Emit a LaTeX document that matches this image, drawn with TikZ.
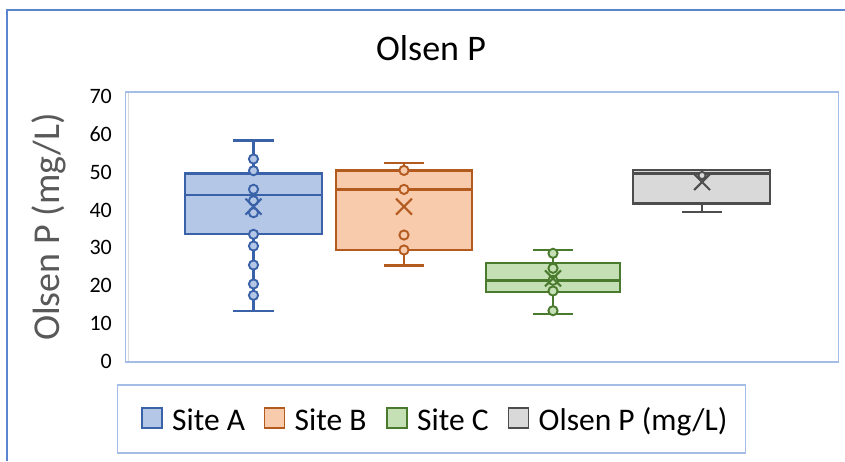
\documentclass[tikz,border=0pt]{standalone}
\usepackage{fontspec}
\setmainfont{Carlito}
\definecolor{lineA}{HTML}{3A62A8}
\definecolor{fillA}{HTML}{B4C7E7}
\definecolor{lineB}{HTML}{B35A1F}
\definecolor{fillB}{HTML}{F8CBAD}
\definecolor{lineC}{HTML}{4A7A2E}
\definecolor{fillC}{HTML}{C5E0B4}
\definecolor{lineD}{HTML}{4D4D4D}
\definecolor{fillD}{HTML}{D9D9D9}
\definecolor{plotborder}{HTML}{A4BDE6}
\definecolor{outerborder}{HTML}{5B86CF}
\definecolor{axisgrey}{HTML}{595959}
\begin{document}
\begin{tikzpicture}[x=1pt,y=-1pt,
  whisk/.style={line width=2.4pt, draw=#1},
  bx/.style 2 args={line width=2.6pt, draw=#1, fill=#2},
  pt/.style 2 args={line width=1.9pt, draw=#1, fill=#2},
  mk/.style={line width=2.1pt, draw=#1},
  tick/.style={anchor=east, inner sep=0pt, font=\fontsize{22}{26}\selectfont},
  lgtext/.style={anchor=base west, inner sep=0pt, font=\fontsize{31.5}{36}\selectfont},
  lgsq/.style 2 args={line width=1.8pt, draw=#1, fill=#2}]
\useasboundingbox (0,0) rectangle (845,461);
\fill[white] (0,0) rectangle (845,461);
% outer chart border
\draw[outerborder, line width=1.2pt] (7,461) -- (7,10) -- (845,10);
% title
\node[font=\fontsize{36}{40}\selectfont, inner sep=0pt] (title) at (431,48.5) {Olsen P};
% plot area
\draw[plotborder, line width=1.5pt] (125.5,92) rectangle (838.5,362);
\draw[fillD, line width=1.5pt] (128.5,93) -- (128.5,361);
% y tick labels
\foreach \v/\n in {0/t0,10/t10,20/t20,30/t30,40/t40,50/t50,60/t60,70/t70}
  \node[tick] (\n) at (112,{361.5-3.786*\v}) {\v};
% y axis title
\node[rotate=90, anchor=base, inner sep=0pt, text=axisgrey,
  font=\fontsize{38}{42}\selectfont] (ytitle) at (59.5,227) {Olsen P (mg/L)};

% Site A
\draw[whisk=lineA] (253.5,173.3) -- (253.5,140.3);
\draw[whisk=lineA] (233,140.3) -- (274,140.3);
\draw[whisk=lineA] (253.5,234) -- (253.5,310.7);
\draw[whisk=lineA] (233,310.7) -- (274,310.7);
\draw[bx={lineA}{fillA}] (185,173.3) rectangle (322,234);
\draw[lineA, line width=2.5pt] (185,195) -- (322,195);
\foreach \y in {159,170.7,189.3,200.7,212.7,234.3,246,265,284,295.3}
  \draw[pt={lineA}{fillA}] (253.5,\y) circle[radius=4.6pt];
\draw[mk=lineA] (245.5,198.7) -- (261.5,214.7) (245.5,214.7) -- (261.5,198.7);

% Site B
\draw[whisk=lineB] (404,170.4) -- (404,163.1);
\draw[whisk=lineB] (384,163.1) -- (424,163.1);
\draw[whisk=lineB] (404,249.8) -- (404,265.4);
\draw[whisk=lineB] (384,265.4) -- (424,265.4);
\draw[bx={lineB}{fillB}] (336,170.4) rectangle (472,249.8);
\draw[lineB, line width=2.5pt] (336,189.4) -- (472,189.4);
\foreach \y in {170.4,189.4,235,250}
  \draw[pt={lineB}{fillB}] (404,\y) circle[radius=4.6pt];
\draw[mk=lineB] (396,198.7) -- (412,214.7) (396,214.7) -- (412,198.7);

% Site C
\draw[whisk=lineC] (553,263) -- (553,250);
\draw[whisk=lineC] (533,250) -- (573,250);
\draw[whisk=lineC] (553,292) -- (553,314);
\draw[whisk=lineC] (533,314) -- (573,314);
\draw[bx={lineC}{fillC}] (486,263) rectangle (620,292);
\draw[lineC, line width=2.5pt] (486,280.3) -- (620,280.3);
\foreach \y in {253.3,268.3,280.3,291,310.7}
  \draw[pt={lineC}{fillC}] (553,\y) circle[radius=4.6pt];
\draw[mk=lineC] (545,270.3) -- (561,286.3) (545,286.3) -- (561,270.3);

% Olsen P (mg/L)
\draw[whisk=lineD] (702,203.5) -- (702,212);
\draw[whisk=lineD] (682,212) -- (722,212);
\draw[bx={lineD}{fillD}] (633,170) rectangle (770,203.5);
\draw[lineD, line width=2.2pt] (633,173.5) -- (770,173.5);
\draw[pt={lineD}{fillD}] (702,175.5) circle[radius=3.6pt];
\draw[mk=lineD] (694,174) -- (710,190) (694,190) -- (710,174);

% legend
\draw[plotborder, line width=1.5pt] (117.5,385) rectangle (745.5,453);
\draw[lgsq={lineA}{fillA}] (142,408.3) rectangle (162,428.3);
\node[lgtext] (lA) at (172,430) {Site A};
\draw[lgsq={lineB}{fillB}] (264.5,408.3) rectangle (284.5,428.3);
\node[lgtext] (lB) at (294.5,430) {Site B};
\draw[lgsq={lineC}{fillC}] (387,408.3) rectangle (407,428.3);
\node[lgtext] (lC) at (417,430) {Site C};
\draw[lgsq={lineD}{fillD}] (508.5,408.3) rectangle (528.5,428.3);
\node[lgtext] (lD) at (538.5,430) {Olsen P (mg/L)};
\end{tikzpicture}
\end{document}
